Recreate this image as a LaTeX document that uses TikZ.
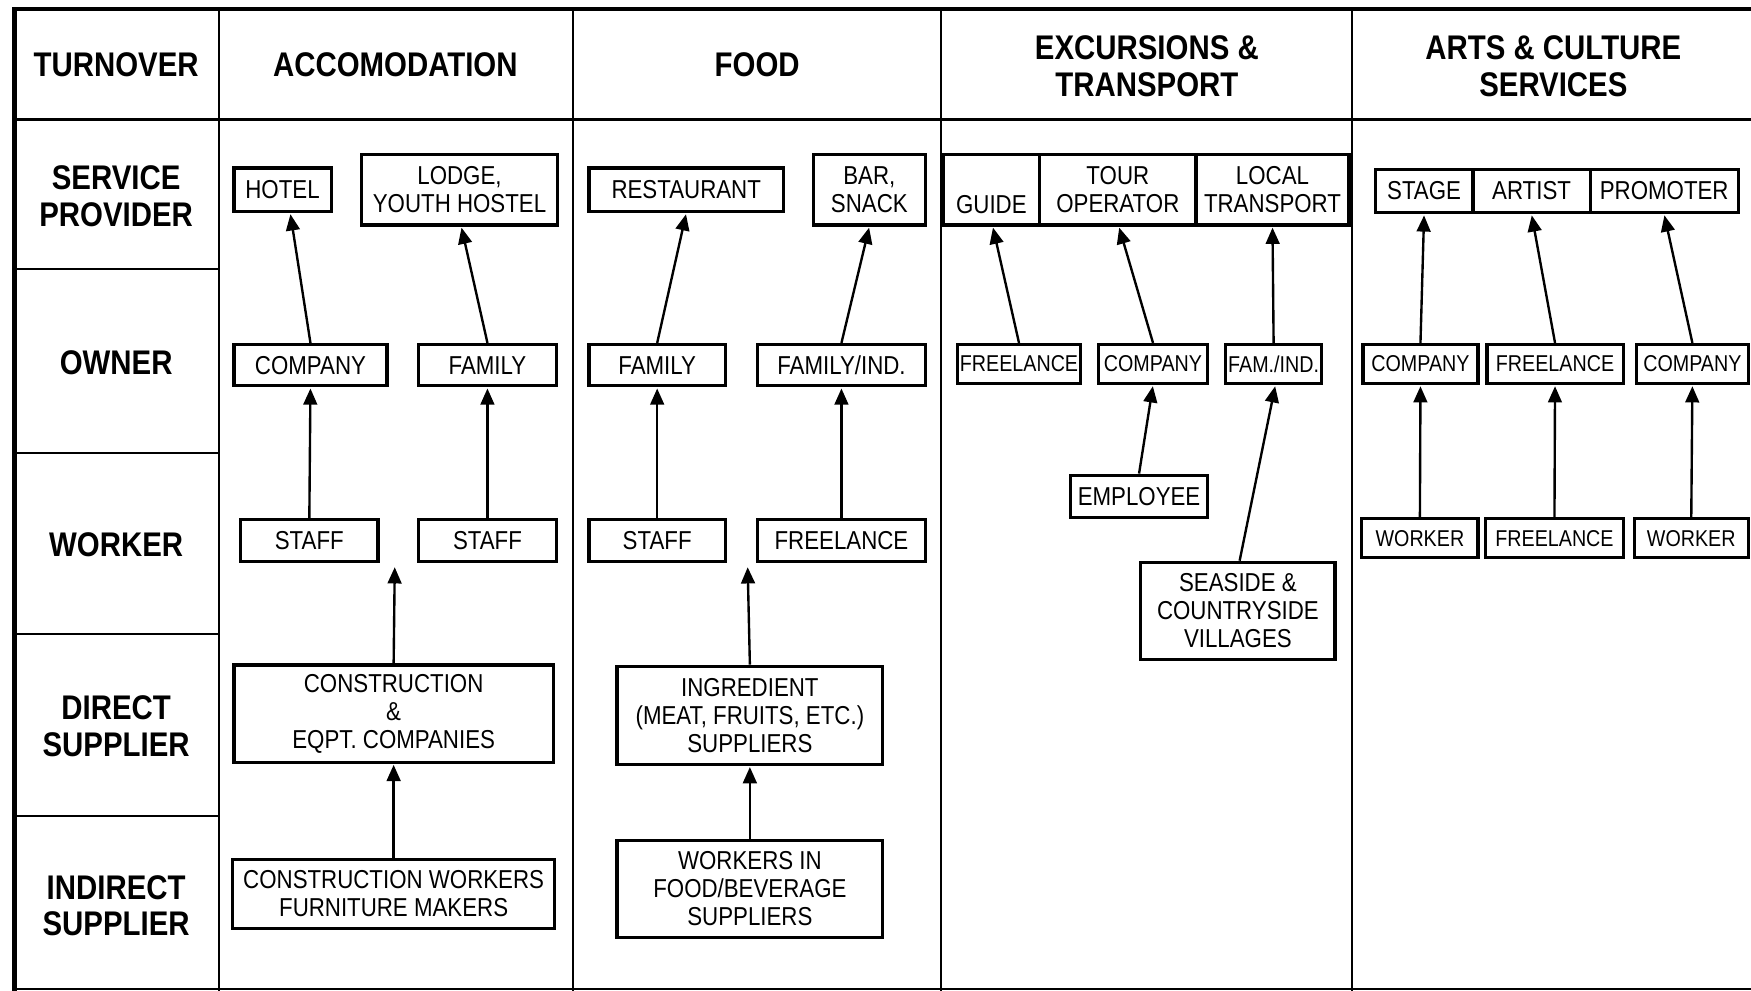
\documentclass[tikz,border=0pt]{standalone}
\usepackage{fontspec}
\setmainfont{Liberation Sans}[FakeStretch=0.86]
\usetikzlibrary{arrows.meta}
\newcommand\fnrm{\fontsize{14.7}{15.8}\selectfont}
\newcommand\fsml{\fontsize{13}{14}\selectfont}
\newcommand\fhdr{\fontsize{19.4}{20.9}\selectfont\bfseries}
\begin{document}
\begin{tikzpicture}[x=0.6336pt,y=-0.6336pt,
  box/.style={draw, line width=1.8pt, inner sep=0pt, align=center, font=\fnrm},
  sbox/.style={box, font=\fsml},
  wh/.style 2 args={minimum width=#1*0.6336pt, minimum height=#2*0.6336pt},
  hdr/.style={inner sep=0pt, align=center, font=\fhdr},
  arr/.style={line width=1.35pt, -{Triangle[length=9.2pt,width=7.8pt]}, shorten >=0.6pt},
  frame/.style={line width=1.2pt},
  outer/.style={line width=2.6pt}]
\useasboundingbox (0,0) rectangle (1568,887);
% frame
\draw[frame] (13,107) -- (1568,107);
\foreach \xx in {196,513,843,1211} \draw[frame] (\xx,8) -- (\xx,887);
\foreach \yy in {241,406,568,731} \draw[frame] (13,\yy) -- (196,\yy);
\draw[frame] (13,886) -- (1568,886);
\draw[outer] (13,887) -- (13,8) -- (1568,8);
% row and column headings
\node[hdr] (hturn) at (104,58) {TURNOVER};
\node[hdr] (hserv) at (104,176) {SERVICE\\PROVIDER};
\node[hdr] (hown) at (104,325) {OWNER};
\node[hdr] (hwork) at (104,488) {WORKER};
\node[hdr] (hdir) at (104,650) {DIRECT\\SUPPLIER};
\node[hdr] (hind) at (104,811) {INDIRECT\\SUPPLIER};
\node[hdr] (hacc) at (354,58) {ACCOMODATION};
\node[hdr] (hfood) at (678,58) {FOOD};
\node[hdr] (hexc) at (1027,59) {EXCURSIONS \&\\TRANSPORT};
\node[hdr] (harts) at (1391,59) {ARTS \& CULTURE\\SERVICES};
% accommodation
\node[box,wh={87}{39}] (hotel) at (253,170) {HOTEL};
\node[box,wh={176}{63}] (lodge) at (411.5,170) {LODGE,\\YOUTH HOSTEL};
\node[box,wh={137}{37}] (acomp) at (278,327) {COMPANY};
\node[box,wh={124}{37}] (afam) at (436.5,327) {FAMILY};
\node[box,wh={123}{37}] (astaff1) at (277,484) {STAFF};
\node[box,wh={124}{37}] (astaff2) at (436.5,484) {STAFF};
\node[box,wh={286}{87}] (acons) at (352.5,639) {CONSTRUCTION\\\&\\EQPT. COMPANIES};
\node[box,wh={288}{62}] (awork) at (352.5,800.5) {CONSTRUCTION WORKERS\\FURNITURE MAKERS};
\coordinate (aend) at (353.5,507);
% food
\node[box,wh={174}{39}] (rest) at (614.5,170) {RESTAURANT};
\node[box,wh={100}{63}] (bar) at (778.5,170) {BAR,\\SNACK};
\node[box,wh={122}{37}] (ffam) at (588.5,327) {FAMILY};
\node[box,wh={150}{37}] (ffamind) at (753.5,327) {FAMILY/IND.};
\node[box,wh={122}{37}] (fstaff) at (588.5,484) {STAFF};
\node[box,wh={150}{37}] (ffree) at (753.5,484) {FREELANCE};
\node[box,wh={238}{88}] (fing) at (671.5,640.5) {INGREDIENT\\(MEAT, FRUITS, ETC.)\\SUPPLIERS};
\node[box,wh={238}{87}] (fwork) at (671.5,796) {WORKERS IN\\FOOD/BEVERAGE\\SUPPLIERS};
\coordinate (fend) at (669.5,507);
% excursions & transport
\node[box,wh={86.5}{63},text height=26.3pt,text depth=0pt] (guide) at (887.75,170) {GUIDE};
\node[box,wh={140}{63}] (tour) at (1001,170) {TOUR\\OPERATOR};
\node[box,wh={137}{63}] (local) at (1139.5,170) {LOCAL\\TRANSPORT};
\node[sbox,wh={110}{35}] (efree) at (912.5,326) {FREELANCE};
\node[sbox,wh={98}{35}] (ecomp) at (1032.5,326) {COMPANY};
\node[sbox,wh={86}{35}] (efam) at (1140.5,326) {FAM./IND.};
\node[box,wh={123}{38}] (eemp) at (1020,444.5) {EMPLOYEE};
\node[box,wh={174}{87}] (esea) at (1108.5,547) {SEASIDE \&\\COUNTRYSIDE\\VILLAGES};
% arts & culture
\node[box,wh={87.5}{39}] (stage) at (1275.25,171) {STAGE};
\node[box,wh={105}{39}] (artist) at (1371.5,171) {ARTIST};
\node[box,wh={132.5}{39}] (promoter) at (1490.25,171) {PROMOTER};
\node[sbox,wh={103}{35}] (ccomp1) at (1272,326) {COMPANY};
\node[sbox,wh={122}{35}] (cfree) at (1392.5,326) {FREELANCE};
\node[sbox,wh={100}{35}] (ccomp2) at (1515.5,326) {COMPANY};
\node[sbox,wh={104}{35}] (cwork1) at (1271.5,482) {WORKER};
\node[sbox,wh={123}{35}] (cfree2) at (1392,482) {FREELANCE};
\node[sbox,wh={102}{35}] (cwork2) at (1514.5,482) {WORKER};
% arrows
\draw[arr] (acomp.north) -- ([xshift=4.4pt]hotel.south);
\draw[arr] (afam.north) -- ([xshift=1pt]lodge.south);
\draw[arr] (astaff1.north) -- (acomp.south);
\draw[arr] (astaff2.north) -- (afam.south);
\draw[arr] (acons.north) -- (aend);
\draw[arr] (awork.north) -- (acons.south);
\draw[arr] (ffam.north) -- (rest.south);
\draw[arr] (ffamind.north) -- (bar.south);
\draw[arr] (fstaff.north) -- (ffam.south);
\draw[arr] (ffree.north) -- (ffamind.south);
\draw[arr] (fing.north) -- (fend);
\draw[arr] (fwork.north) -- (fing.south);
\draw[arr] (efree.north) -- ([xshift=0.8pt]guide.south);
\draw[arr] (ecomp.north) -- ([xshift=0.6pt]tour.south);
\draw[arr] (efam.north) -- (local.south);
\draw[arr] (eemp.north) -- (ecomp.south);
\draw[arr] ([xshift=1pt]esea.north) -- ([xshift=1pt]efam.south);
\draw[arr] (ccomp1.north) -- (stage.south);
\draw[arr] (cfree.north) -- (artist.south);
\draw[arr] (ccomp2.north) -- (promoter.south);
\draw[arr] (cwork1.north) -- (ccomp1.south);
\draw[arr] (cfree2.north) -- (cfree.south);
\draw[arr] (cwork2.north) -- (ccomp2.south);
\end{tikzpicture}
\end{document}
